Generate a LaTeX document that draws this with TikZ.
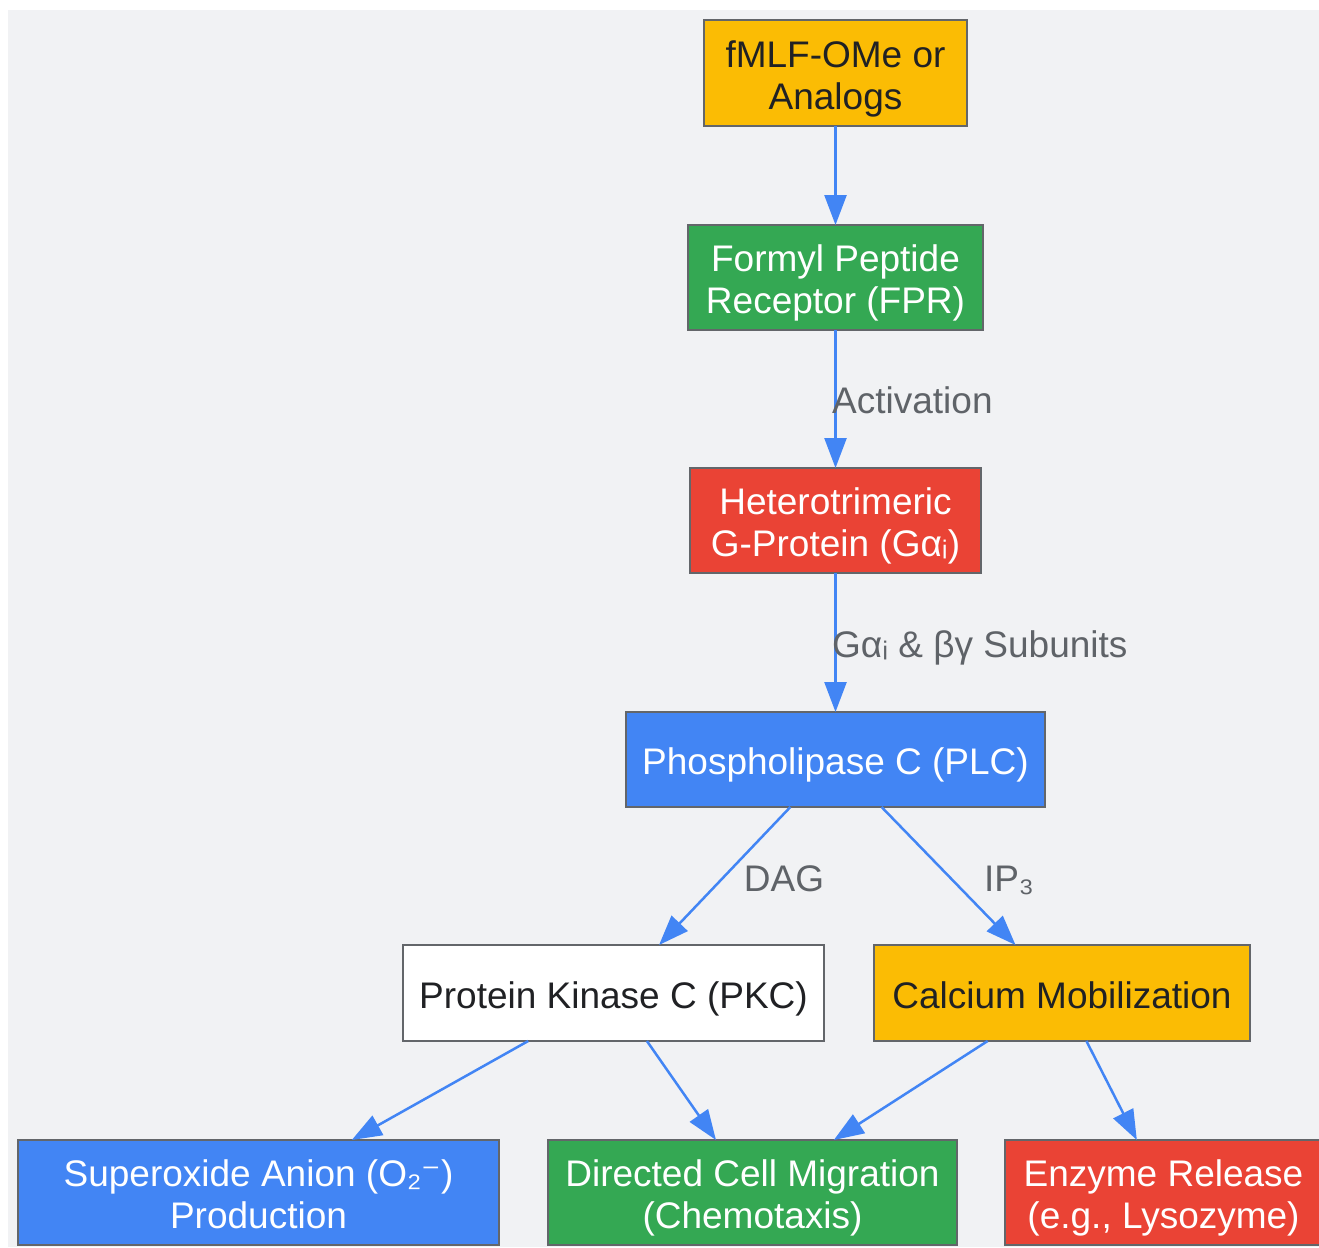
\documentclass[tikz,border=0pt]{standalone}
\usepackage{fontspec}
\setmainfont{Liberation Sans}
\newfontfamily\dejavu{DejaVu Sans}
\usetikzlibrary{arrows.meta}
\definecolor{bg}{HTML}{F1F2F4}
\definecolor{bordergray}{HTML}{63666A}
\definecolor{edgeblue}{HTML}{4285F4}
\definecolor{labelgray}{HTML}{5F6368}
\definecolor{darktext}{HTML}{202124}
\definecolor{gyellow}{HTML}{FBBC04}
\definecolor{ggreen}{HTML}{34A853}
\definecolor{gred}{HTML}{EA4335}
\definecolor{gblue}{HTML}{4285F4}
\newcommand\lnstrut{\rule[-8pt]{0pt}{46pt}}
\begin{document}
\lineskiplimit=-100pt
\begin{tikzpicture}[x=1pt,y=-1pt,
  box/.style={draw=bordergray, line width=2.5pt, inner sep=0pt, outer sep=0pt,
    align=center, font=\fontsize{37}{42}\selectfont},
  conn/.style={draw=edgeblue, line width=2.5pt, -{Triangle[length=30pt,width=22pt]}},
  lbl/.style={text=labelgray, inner sep=0pt, anchor=base west, font=\fontsize{37}{42}\selectfont}]
\useasboundingbox (0,0) rectangle (1319,1247);
\clip (0,0) rectangle (1319,1247);
\fill[bg] (8,10) rectangle (1319,1247);

\node[box, fill=gyellow, text=darktext, minimum width=263pt, minimum height=106pt] (fmlf) at (835.5,73) {\lnstrut fMLF-OMe or\\\lnstrut Analogs};
\node[box, fill=ggreen, text=white, minimum width=295pt, minimum height=105pt] (fpr) at (835.5,277.5) {\lnstrut Formyl Peptide\\\lnstrut Receptor (FPR)};
\node[box, fill=gred, text=white, minimum width=291pt, minimum height=105pt] (gprot) at (835.5,520.5) {\lnstrut Heterotrimeric\\\lnstrut G-Protein (Gαᵢ)};
\node[box, fill=gblue, text=white, minimum width=419pt, minimum height=95pt] (plc) at (835.5,759.5) {\lnstrut Phospholipase C (PLC)};
\node[box, fill=white, text=darktext, minimum width=421pt, minimum height=96pt] (pkc) at (613.5,993) {\lnstrut Protein Kinase C (PKC)};
\node[box, fill=gyellow, text=darktext, minimum width=376pt, minimum height=96pt] (calc) at (1062,993) {\lnstrut Calcium Mobilization};
\node[box, fill=gblue, text=white, minimum width=481pt, minimum height=105pt] (sox) at (258.5,1192.5) {\lnstrut Superoxide Anion (O₂{\dejavu ⁻})\\\lnstrut Production};
\node[box, fill=ggreen, text=white, minimum width=409pt, minimum height=105pt] (chem) at (752.5,1192.5) {\lnstrut Directed Cell Migration\\\lnstrut (Chemotaxis)};
\node[box, fill=gred, text=white, minimum width=317pt, minimum height=105pt] (enz) at (1163.5,1192.5) {\lnstrut Enzyme Release\\\lnstrut (e.g., Lysozyme)};

\draw[conn] (fmlf) -- (fpr);
\draw[conn] (fpr) -- (gprot);
\draw[conn] (gprot) -- (plc);
\draw[conn] (plc) -- (pkc);
\draw[conn] (plc) -- (calc);
\draw[conn] (pkc) -- (sox);
\draw[conn] (pkc) -- (chem);
\draw[conn] (calc) -- (chem);
\draw[conn] (calc) -- (enz);

\node[lbl] (lact) at (832,413) {Activation};
\node[lbl] (lsub) at (832,657) {Gαᵢ \& βγ Subunits};
\node[lbl, anchor=base] (ldag) at (784,891) {DAG};
\node[lbl, anchor=base] (lip3) at (1009,891) {IP₃};
\end{tikzpicture}
\end{document}
